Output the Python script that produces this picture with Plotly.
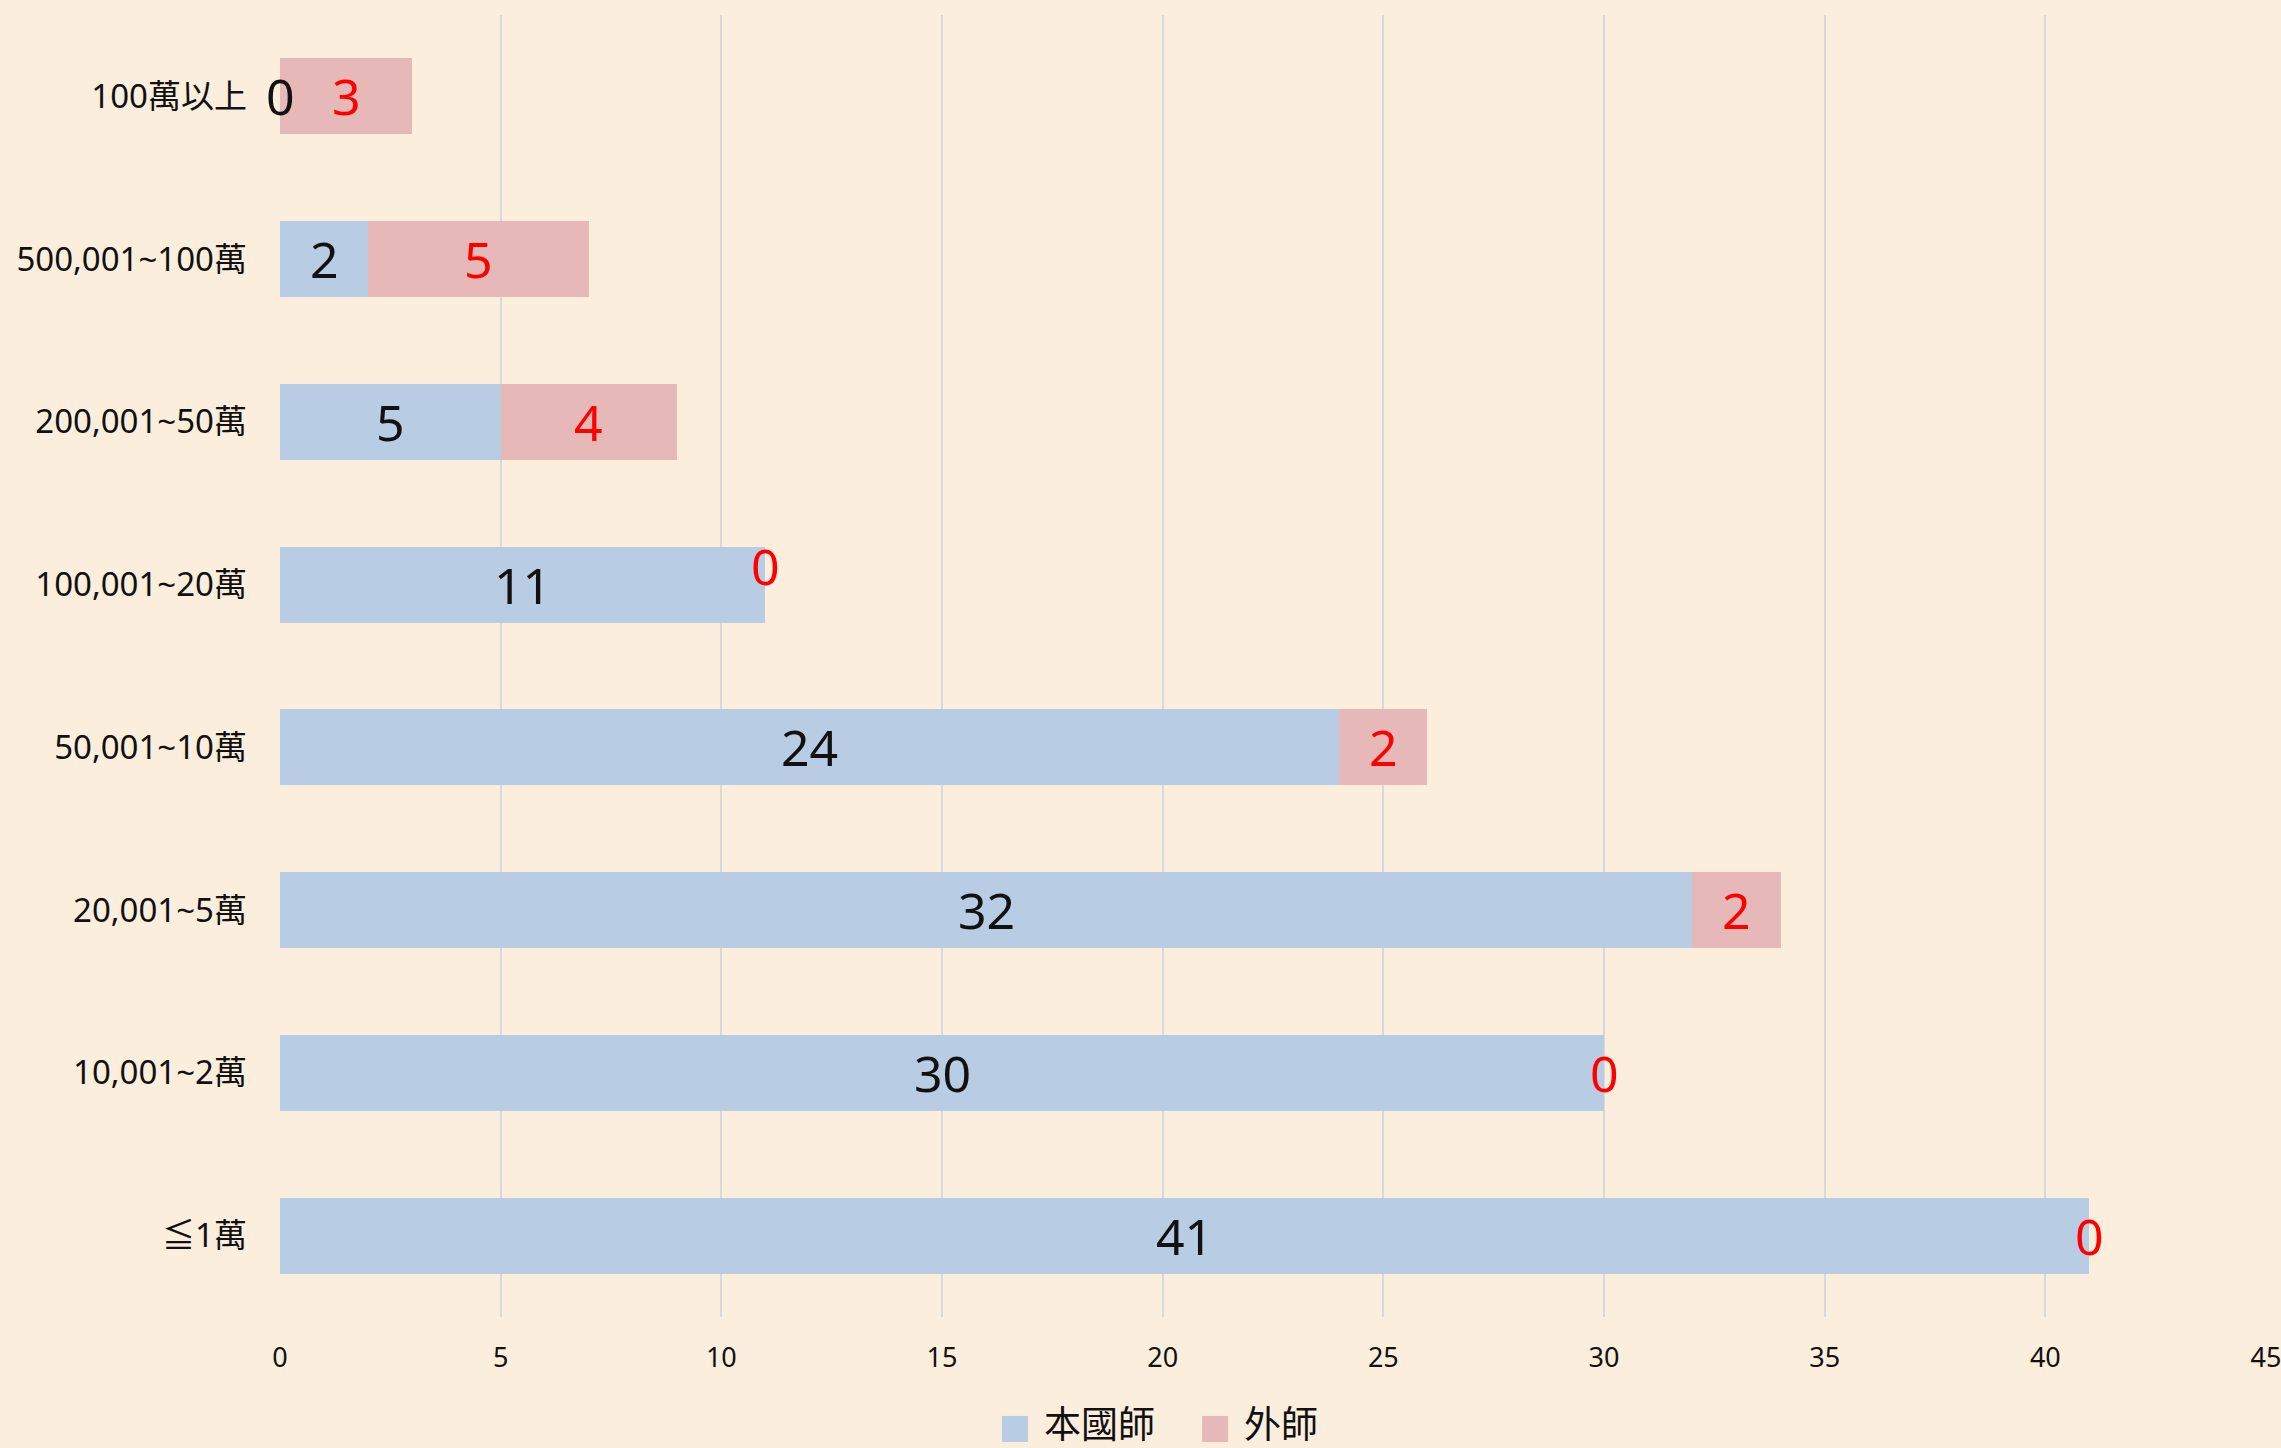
import plotly.graph_objects as go

categories = ["100萬以上", "500,001~100萬", "200,001~50萬", "100,001~20萬",
              "50,001~10萬", "20,001~5萬", "10,001~2萬", "≦1萬"]
local_teachers = [0, 2, 5, 11, 24, 32, 30, 41]
foreign_teachers = [3, 5, 4, 0, 2, 2, 0, 0]
series_names = ["本國師", "外師"]
x_ticks = [0, 5, 10, 15, 20, 25, 30, 35, 40, 45]

BLUE = "#B8CCE4"
PINK = "#E6B8B7"
BG = "#FCEEDD"
FONT = "Noto Sans, Noto Sans CJK TC, sans-serif"
CJK = "Noto Sans CJK TC, Noto Sans, sans-serif"

fig = go.Figure()
fig.add_trace(go.Bar(y=categories, x=local_teachers, orientation="h", name=series_names[0],
                     marker=dict(color=BLUE, line=dict(width=0)), showlegend=False))
fig.add_trace(go.Bar(y=categories, x=foreign_teachers, orientation="h", name=series_names[1],
                     marker=dict(color=PINK, line=dict(width=0)), showlegend=False))

annotations = []
for cat, a, b in zip(categories, local_teachers, foreign_teachers):
    annotations.append(dict(x=a / 2, y=cat, xref="x", yref="y", text=str(a), showarrow=False,
                            font=dict(family=FONT, size=50, color="#111111")))
    ys = 19 if (b == 0 and a < 20) else 0
    annotations.append(dict(x=a + b / 2, y=cat, xref="x", yref="y", text=str(b), showarrow=False,
                            yshift=ys, font=dict(family=FONT, size=50, color="#FF0000")))

# manual legend (large squares)
shapes = []
legend_items = [(series_names[0], BLUE, 0.3635), (series_names[1], PINK, 0.4643)]
for name, col, x0 in legend_items:
    shapes.append(dict(type="rect", xref="paper", yref="paper", x0=x0, x1=x0 + 0.0131,
                       y0=-0.096, y1=-0.076, fillcolor=col, line=dict(width=0)))
    annotations.append(dict(x=x0 + 0.0202, y=-0.0805, xref="paper", yref="paper", text=name,
                            showarrow=False, xanchor="left", yanchor="middle",
                            font=dict(family=CJK, size=37, color="#111111")))

fig.update_layout(
    barmode="stack",
    bargap=0.534,
    width=2281, height=1448,
    margin=dict(l=280, r=15, t=15, b=131, autoexpand=False),
    paper_bgcolor=BG, plot_bgcolor=BG,
    annotations=annotations,
    shapes=shapes,
    showlegend=False,
    xaxis=dict(range=[0, 45], tickvals=x_ticks, showgrid=True, gridcolor="#D9D9D9", gridwidth=1.5,
               zeroline=False, showline=False, ticks="", ticklabelstandoff=22,
               ticklabeloverflow="allow", automargin=False,
               tickfont=dict(family=FONT, size=27, color="#111111")),
    yaxis=dict(autorange="reversed", showgrid=False, zeroline=False, showline=False, ticks="",
               ticklabelstandoff=32, automargin=False,
               tickfont=dict(family=FONT, size=33, color="#111111")),
)

fig.write_html("out.html", config={"displayModeBar": False},
               post_script="document.body.style.margin='0';document.body.style.overflow='hidden';")
